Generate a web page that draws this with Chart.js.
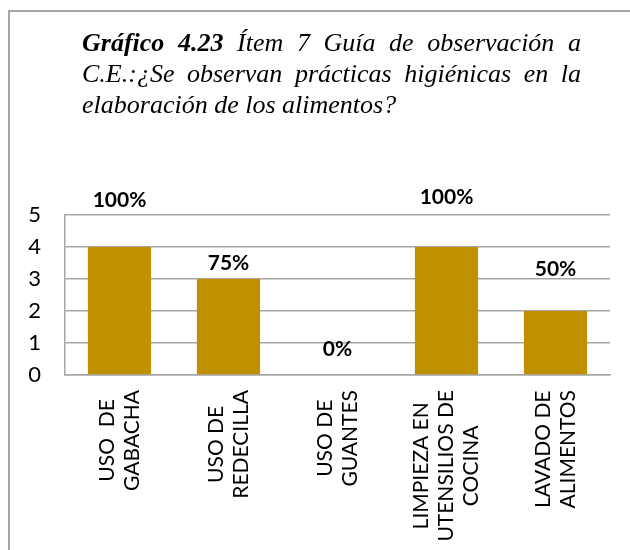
<!DOCTYPE html>
<html>
<head>
<meta charset="utf-8">
<script src="https://cdn.jsdelivr.net/npm/chart.js@4.4.0/dist/chart.umd.min.js"></script>
<style>
    body { margin: 0; background: #fff; }
    #wrap { position: relative; width: 630px; height: 550px; overflow: hidden; }
    #frame { position: absolute; left: 8px; top: 10px; width: 640px; height: 560px;
             border-left: 2px solid #a6a6a6; border-top: 2px solid #a6a6a6; }
    #titulo { position: absolute; left: 82px; top: 27px; width: 499px;
              font-family: "Liberation Serif", serif; font-style: italic; font-size: 26px;
              line-height: 31px; color: #000; }
    #titulo .j { text-align: justify; text-align-last: justify; }
    canvas { position: absolute; left: 0; top: 0; }
</style>
</head>
<body>
<div id="wrap">
    <div id="frame"></div>
    <canvas id="chartGuia" width="630" height="550"></canvas>
    <div id="titulo">
        <div class="j"><b>Gráfico 4.23</b> Ítem 7 Guía de observación a</div>
        <div class="j">C.E.:¿Se observan prácticas higiénicas en la</div>
        <div>elaboración de los alimentos?</div>
    </div>
</div>
<script>
// === DATOS ===
const categorias = [
    ["USO  DE", "GABACHA"],
    ["USO DE", "REDECILLA"],
    ["USO DE", "GUANTES"],
    ["LIMPIEZA EN", "UTENSILIOS DE", "COCINA"],
    ["LAVADO DE", "ALIMENTOS"]
];
const valores = [4, 3, 0, 4, 2];
const porcentajes = ["100%", "75%", "0%", "100%", "50%"];
const yTicks = [0, 1, 2, 3, 4, 5];

// donde quedaron las etiquetas (en unidades del eje y, movidas a mano en el original)
const etiquetaY = [5.45, 3.5, 0.8, 5.55, 3.3];

// === ETIQUETAS DEL EJE X (centradas, giradas) ===
const ejeXPlugin = {
    id: "ejeX",
    afterDraw(chart) {
        const ctx = chart.ctx;
        const x = chart.scales.x;
        const top = chart.chartArea.bottom + 15;
        const lh = 25;
        ctx.save();
        ctx.font = "21px Lato";
        ctx.fillStyle = "#000";
        ctx.textAlign = "center";
        ctx.textBaseline = "middle";
        categorias.forEach((lineas, i) => {
            let maxW = 0;
            lineas.forEach(l => { maxW = Math.max(maxW, ctx.measureText(l).width); });
            ctx.save();
            ctx.translate(x.getPixelForValue(i), top + maxW / 2);
            ctx.rotate(-Math.PI / 2);
            lineas.forEach((l, j) => {
                ctx.fillText(l, 0, (j - (lineas.length - 1) / 2) * lh);
            });
            ctx.restore();
        });
        ctx.restore();
    }
};

// === ETIQUETAS DE DATOS ===
const etiquetasPlugin = {
    id: "etiquetas",
    afterDatasetsDraw(chart) {
        const ctx = chart.ctx;
        const x = chart.scales.x;
        const y = chart.scales.y;
        ctx.save();
        ctx.font = "bold 21px Lato";
        ctx.fillStyle = "#000";
        ctx.textAlign = "center";
        ctx.textBaseline = "middle";
        porcentajes.forEach((p, i) => {
            ctx.fillText(p, x.getPixelForValue(i), y.getPixelForValue(etiquetaY[i]));
        });
        ctx.restore();
    }
};

let chart = new Chart(document.getElementById("chartGuia"), {
    type: "bar",
    data: {
        labels: categorias,
        datasets: [{
            data: valores,
            backgroundColor: "#bf9000",
            borderWidth: 0,
            barPercentage: 0.58,
            categoryPercentage: 1
        }]
    },
    options: {
        responsive: false,
        animation: false,
        layout: { padding: { left: 9, right: 20, top: 215, bottom: 0 } },
        plugins: {
            legend: { display: false },
            tooltip: { enabled: false }
        },
        scales: {
            x: {
                grid: { display: false, drawTicks: false },
                border: { color: "#a6a6a6", width: 1.5 },
                ticks: { display: false },
                afterFit(scale) { scale.height = 175; }
            },
            y: {
                min: 0,
                max: 5,
                afterBuildTicks(scale) { scale.ticks = yTicks.map(v => ({ value: v })); },
                grid: { color: "#a6a6a6", lineWidth: 1.5, drawTicks: false },
                border: { color: "#a6a6a6", width: 1.5 },
                ticks: {
                    color: "#000",
                    font: { family: "Lato", size: 22 },
                    padding: 24
                },
                afterFit(scale) { scale.width = 56; }
            }
        }
    },
    plugins: [ejeXPlugin, etiquetasPlugin]
});
</script>
</body>
</html>
